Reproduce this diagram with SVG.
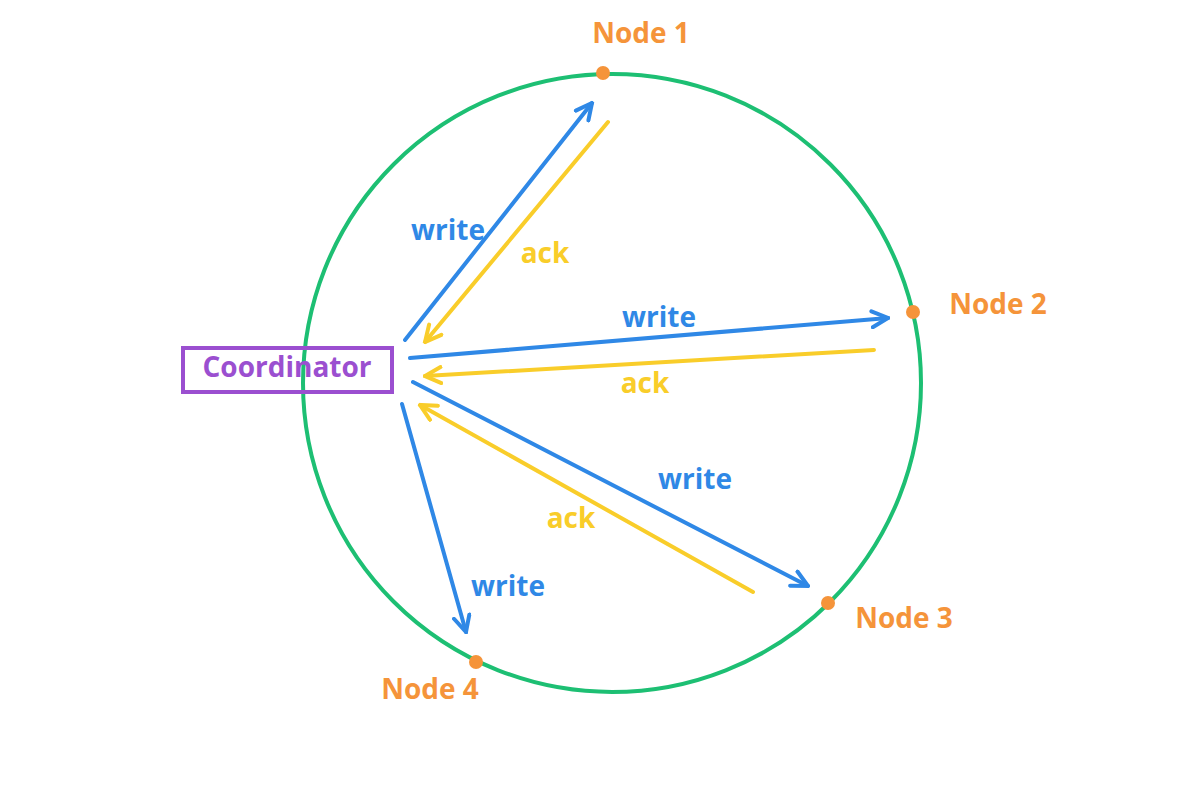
<svg xmlns="http://www.w3.org/2000/svg" width="1200" height="806" viewBox="0 0 1200 806">
<style>
text{font-family:"Open Sans","Liberation Sans",sans-serif;font-weight:700;font-size:28px;text-anchor:middle}
.w{fill:#2f88e6}.a{fill:#f9cd2a}.n{fill:#f5943a}
.bl{stroke:#2f88e6;stroke-width:4;fill:none;stroke-linecap:round;stroke-linejoin:round}
.yl{stroke:#f9cd2a;stroke-width:4;fill:none;stroke-linecap:round;stroke-linejoin:round}
</style>
<defs>
<marker id="mb" viewBox="0 0 20 20" refX="18" refY="10" markerWidth="20" markerHeight="20" markerUnits="userSpaceOnUse" orient="auto"><path d="M2,2 L18,10 L2,18" fill="none" stroke="#2f88e6" stroke-width="4" stroke-linecap="round"/></marker>
<marker id="my" viewBox="0 0 20 20" refX="18" refY="10" markerWidth="20" markerHeight="20" markerUnits="userSpaceOnUse" orient="auto"><path d="M2,2 L18,10 L2,18" fill="none" stroke="#f9cd2a" stroke-width="4" stroke-linecap="round"/></marker>
</defs>
<rect width="1200" height="806" fill="#fff"/>
<ellipse cx="612" cy="383" rx="309" ry="309" fill="none" stroke="#1dbf73" stroke-width="4"/>
<g id="connectors">
<path class="bl" d="M405,340 L592,103" marker-end="url(#mb)"/>
<path class="yl" d="M608,122 L425,342" marker-end="url(#my)"/>
<path class="bl" d="M410,358 L888,318" marker-end="url(#mb)"/>
<path class="yl" d="M874,350 L425,376" marker-end="url(#my)"/>
<path class="bl" d="M413,382 L808,586" marker-end="url(#mb)"/>
<path class="yl" d="M753,592 L420,405" marker-end="url(#my)"/>
<path class="bl" d="M402,404 L466,632" marker-end="url(#mb)"/>
<text class="w" x="448" y="240">write</text>
<text class="a" x="545" y="263">ack</text>
<text class="w" x="659" y="327">write</text>
<text class="a" x="645" y="393">ack</text>
<text class="w" x="695" y="489">write</text>
<text class="a" x="571" y="528">ack</text>
<text class="w" x="508" y="596">write</text>
</g>
<g id="coordinator">
<rect x="183" y="348" width="209" height="44" fill="none" stroke="#9b4fd0" stroke-width="4"/>
<text x="287" y="377" fill="#9b4fd0" font-size="29">Coordinator</text>
</g>
<g id="node1"><circle cx="603" cy="73" r="7" class="n"/><text class="n" x="641" y="43">Node 1</text></g>
<g id="node2"><circle cx="913" cy="312" r="7" class="n"/><text class="n" x="998" y="314">Node 2</text></g>
<g id="node3"><circle cx="828" cy="603" r="7" class="n"/><text class="n" x="904" y="628">Node 3</text></g>
<g id="node4"><circle cx="476" cy="662" r="7" class="n"/><text class="n" x="430" y="699">Node 4</text></g>
</svg>
